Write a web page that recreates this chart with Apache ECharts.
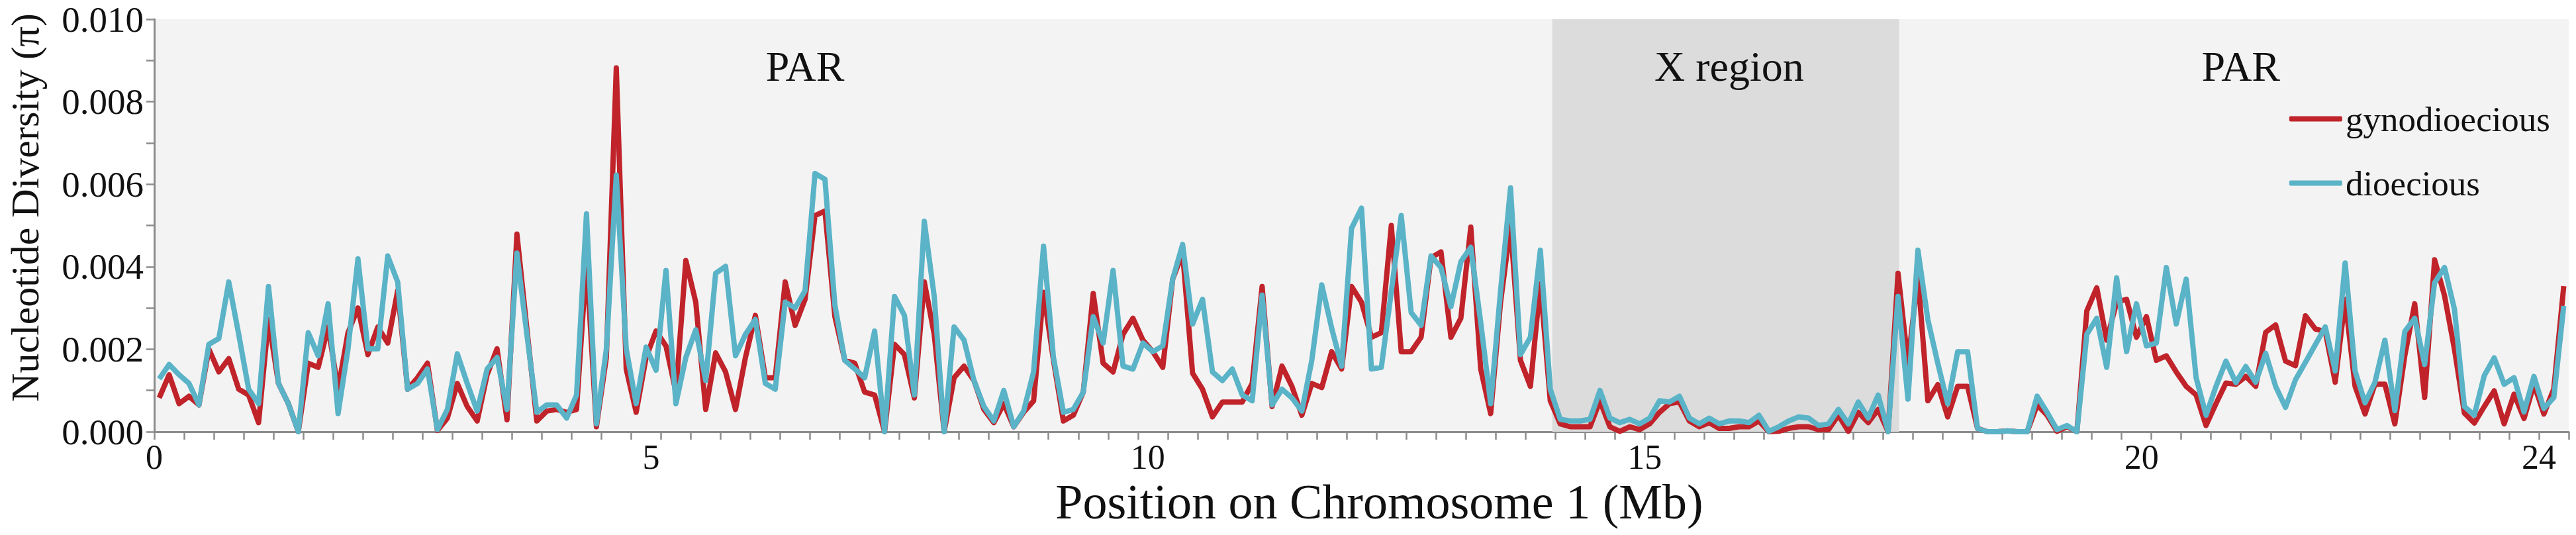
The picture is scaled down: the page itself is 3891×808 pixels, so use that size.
<!DOCTYPE html>
<html>
<head>
<meta charset="utf-8">
<script src="https://cdn.jsdelivr.net/npm/echarts@6/dist/echarts.min.js"></script>
<style>
html,body{margin:0;padding:0;background:#fff;}
#chart{width:3891px;height:808px;}
</style>
</head>
<body>
<div id="chart"></div>
<script>
// ---- data (nucleotide diversity in 100 kb windows along chromosome 1) ----
const windowStart = 0.05;   // Mb, centre of first window
const windowStep = 0.1;     // Mb
const gynodioecious = [
0.00082,0.00138,0.00068,0.00086,0.00065,0.002,0.00145,0.00177,0.00103,0.00089,
0.00022,0.00272,0.00117,0.00068,0.0,0.00166,0.00156,0.00254,0.00103,0.0024,
0.003,0.00187,0.00254,0.00215,0.00342,0.00103,0.00131,0.00166,0.00003,0.00033,
0.00117,0.00061,0.00026,0.00138,0.00201,0.00029,0.00479,0.0025,0.00026,0.0005,
0.00054,0.00047,0.00054,0.00412,0.00012,0.0018,0.00882,0.00152,0.00047,0.0018,
0.00244,0.00208,0.00096,0.00415,0.00314,0.00054,0.00191,0.00145,0.00054,0.0018,
0.00282,0.00131,0.00131,0.00363,0.00258,0.00321,0.00524,0.00535,0.00279,0.00173,
0.00166,0.00096,0.00089,0.0,0.00212,0.00187,0.00082,0.00363,0.00236,0.0,
0.00131,0.00159,0.00124,0.00054,0.00022,0.00068,0.00012,0.00047,0.00075,0.00338,
0.00173,0.00026,0.0004,0.00096,0.00335,0.00166,0.00145,0.00236,0.00275,0.00222,
0.00194,0.00156,0.0037,0.00433,0.00142,0.00103,0.00036,0.00072,0.00072,0.00072,
0.00117,0.00352,0.00061,0.00159,0.0011,0.0004,0.00117,0.00107,0.00194,0.00152,
0.00352,0.00314,0.00229,0.0024,0.005,0.00194,0.00194,0.00229,0.00422,0.00436,
0.00229,0.00275,0.00496,0.00152,0.00044,0.00314,0.005,0.00173,0.0011,0.00359,
0.00075,0.00019,0.00012,0.00012,0.00012,0.00075,0.00012,0.00001,0.00012,0.00005,
0.00019,0.00047,0.00068,0.00072,0.00026,0.00012,0.00022,0.00008,0.00008,0.00012,
0.00012,0.00026,0.0,0.00001,0.00008,0.00012,0.00012,0.00005,0.00005,0.0004,
0.00001,0.00047,0.00022,0.00054,0.0,0.00384,0.00166,0.00377,0.00075,0.00114,
0.00036,0.0011,0.0011,0.00008,0.0,0.0,0.00002,0.0,0.0,0.00065,
0.0004,0.00001,0.00012,0.0,0.00293,0.00349,0.00222,0.00314,0.00321,0.00229,
0.00279,0.00173,0.00184,0.00145,0.0011,0.00089,0.00015,0.00068,0.00118,0.00115,
0.00134,0.0011,0.00241,0.00259,0.00171,0.0016,0.00281,0.00249,0.00243,0.0012,
0.00321,0.0011,0.00043,0.00115,0.00115,0.00019,0.00184,0.0031,0.00083,0.00417,
0.0033,0.002,0.00045,0.00021,0.00061,0.00099,0.00019,0.00091,0.00032,0.00115,
0.00043,0.00104,0.00353
];
const dioecious = [
0.00128,0.00163,0.00138,0.00117,0.00065,0.00212,0.00226,0.00363,0.00236,0.00103,
0.00068,0.00352,0.00117,0.00068,0.0,0.0024,0.00184,0.0031,0.00044,0.00201,
0.00419,0.00201,0.00201,0.00426,0.00363,0.00103,0.00117,0.00152,0.00005,0.00054,
0.00189,0.00117,0.0005,0.00152,0.0018,0.00054,0.00433,0.00236,0.00047,0.00065,
0.00065,0.00033,0.00089,0.00528,0.00019,0.002,0.00622,0.00201,0.00068,0.00205,
0.00149,0.00391,0.00068,0.0018,0.00247,0.00124,0.00384,0.00401,0.00184,0.00236,
0.00272,0.00117,0.00103,0.00314,0.003,0.00342,0.00626,0.00612,0.00307,0.00173,
0.00152,0.00131,0.00244,0.0,0.00328,0.00282,0.00089,0.0051,0.00328,0.0,
0.00254,0.00222,0.00124,0.00061,0.00026,0.001,0.00012,0.0005,0.00145,0.0045,
0.0018,0.00047,0.00054,0.00096,0.00279,0.00215,0.00391,0.00159,0.00152,0.00215,
0.00194,0.00208,0.0037,0.00454,0.00261,0.00321,0.00145,0.00124,0.00152,0.00089,
0.00075,0.00331,0.00065,0.00103,0.00082,0.0005,0.00173,0.00356,0.00251,0.00159,
0.00493,0.00542,0.00152,0.00156,0.0034,0.00524,0.00289,0.00258,0.00426,0.00398,
0.00303,0.00412,0.00447,0.00265,0.00068,0.00342,0.00591,0.00187,0.00229,0.0044,
0.00103,0.0003,0.00026,0.00026,0.0003,0.001,0.00033,0.00022,0.0003,0.00019,
0.00033,0.00075,0.00072,0.00086,0.00033,0.00019,0.00033,0.00019,0.00026,0.00026,
0.00022,0.0004,0.00001,0.00012,0.00026,0.00036,0.00033,0.00015,0.00019,0.00054,
0.00019,0.00072,0.00033,0.00089,0.0,0.00328,0.00079,0.0044,0.00272,0.00166,
0.00068,0.00194,0.00194,0.00008,0.0,0.0,0.00002,0.0,0.0,0.00086,
0.00047,0.00005,0.00015,0.0,0.00236,0.00275,0.00156,0.00373,0.00194,0.0031,
0.00208,0.00215,0.00398,0.00261,0.0037,0.00131,0.0004,0.0011,0.00171,0.00119,
0.00158,0.0012,0.0019,0.0011,0.00059,0.00126,0.00168,0.00211,0.00254,0.00147,
0.00409,0.00147,0.0007,0.0012,0.00222,0.00051,0.00243,0.00275,0.00163,0.00361,
0.00398,0.00297,0.00061,0.0004,0.00136,0.00179,0.00115,0.00131,0.00048,0.00134,
0.00056,0.00083,0.00305
];
const xTickLabels = [0, 5, 10, 15, 20, 24];
const yTickLabels = [0, 0.002, 0.004, 0.006, 0.008, 0.010];
const xRegion = [14.07, 17.56];            // X region boundaries (Mb)
const regionNames = ['PAR', 'X region', 'PAR'];

// ---- layout / style ----
const regionLabelAt = [[6.55, 0.00885], [15.85, 0.00885], [21.0, 0.00885]];
const SERIF = '"Liberation Serif", "DejaVu Serif", serif';
const AXIS_GRAY = '#8c8c8c';
const RED = '#c0232a';
const BLUE = '#5ab3c7';

const xs = gynodioecious.map((_, i) => +(windowStart + windowStep * i).toFixed(3));
const tickVals = [];
for (let t = 0; t <= 24.31; t += 0.3) tickVals.push(+t.toFixed(2));

const chart = echarts.init(document.getElementById('chart'), null, {renderer: 'svg'});
chart.setOption({
  animation: false,
  backgroundColor: '#ffffff',
  grid: {left: 222, right: 11, top: 29, bottom: 156, show: true, backgroundColor: '#f3f3f3', borderWidth: 0},
  legend: {
    orient: 'vertical', right: 34, top: 148, icon: 'roundRect',
    itemWidth: 80, itemHeight: 8, itemGap: 44,
    textStyle: {fontFamily: SERIF, fontSize: 53, color: '#111'},
    data: ['gynodioecious', 'dioecious']
  },
  xAxis: {
    type: 'value', min: 0, max: 24.3,
    name: 'Position on Chromosome 1 (Mb)', nameLocation: 'middle', nameGap: 50,
    nameTextStyle: {fontFamily: SERIF, fontSize: 74, color: '#111', padding: [0, 0, 0, 54]},
    axisLine: {show: true, onZero: false, lineStyle: {color: AXIS_GRAY, width: 3}},
    axisTick: {show: true, customValues: tickVals, length: 12, lineStyle: {color: AXIS_GRAY, width: 2.5}},
    axisLabel: {customValues: xTickLabels, formatter: v => String(v), fontFamily: SERIF, fontSize: 52, color: '#111', margin: 12},
    splitLine: {show: false}
  },
  yAxis: {
    type: 'value', min: 0, max: 0.01, interval: 0.002,
    name: 'Nucleotide Diversity (\u03c0)', nameLocation: 'middle', nameGap: 165,
    nameTextStyle: {fontFamily: SERIF, fontSize: 60, color: '#111', padding: [0, 0, 0, 54]},
    axisLine: {show: true, lineStyle: {color: AXIS_GRAY, width: 3}},
    axisTick: {show: true, length: 12, lineStyle: {color: AXIS_GRAY, width: 2.5}},
    minorTick: {show: true, splitNumber: 2, length: 12, lineStyle: {color: AXIS_GRAY, width: 2.5}},
    axisLabel: {formatter: v => v.toFixed(3), fontFamily: SERIF, fontSize: 55, color: '#111', margin: 16,
      customValues: yTickLabels},
    splitLine: {show: false}
  },
  series: [
    {
      name: 'gynodioecious', type: 'line', symbol: 'none', z: 3,
      data: gynodioecious.map((v, i) => [xs[i], v]),
      lineStyle: {color: RED, width: 8, join: 'round'},
      itemStyle: {color: RED},
      markArea: {
        silent: true,
        itemStyle: {color: '#dcdcdc'},
        data: [[{xAxis: xRegion[0]}, {xAxis: xRegion[1]}]]
      }
    },
    {
      name: 'dioecious', type: 'line', symbol: 'none', z: 4,
      data: dioecious.map((v, i) => [xs[i], v]),
      lineStyle: {color: BLUE, width: 8, join: 'round'},
      itemStyle: {color: BLUE},
      markPoint: {
        silent: true, symbol: 'circle', symbolSize: 0,
        label: {show: true, position: 'inside', fontFamily: SERIF, fontSize: 64, color: '#111', formatter: p => p.name},
        data: regionNames.map((n, i) => ({name: n, coord: regionLabelAt[i]}))
      }
    }
  ]
});
</script>
</body>
</html>
